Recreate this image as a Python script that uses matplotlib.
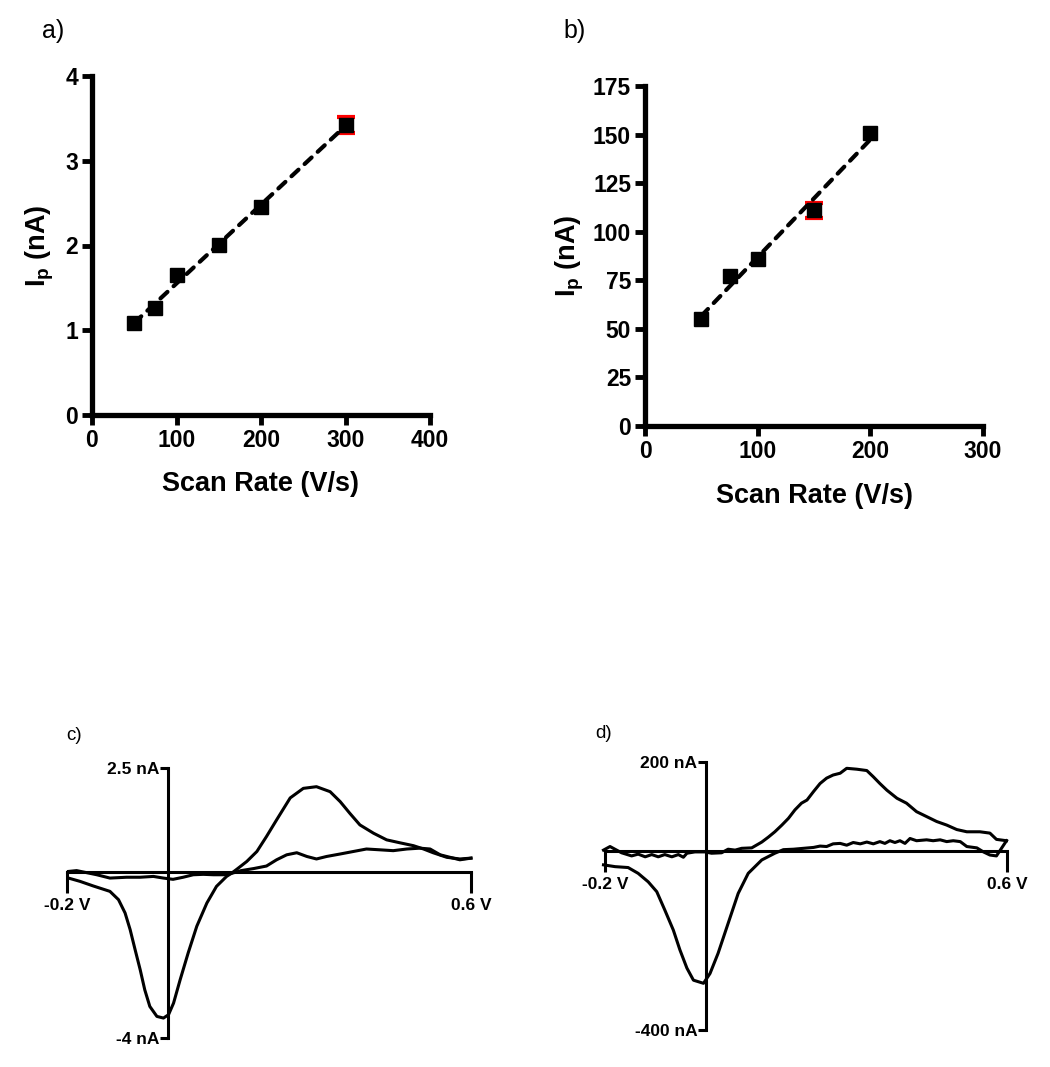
import numpy as np
import matplotlib
matplotlib.use("Agg")
import matplotlib.pyplot as plt

plt.rcParams['font.family'] = ['Liberation Sans', 'DejaVu Sans']
plt.rcParams['font.weight'] = 'bold'
plt.rcParams['mathtext.fontset'] = 'custom'
plt.rcParams['mathtext.rm'] = 'Liberation Sans:bold'
plt.rcParams['mathtext.it'] = 'Liberation Sans:bold'
plt.rcParams['mathtext.bf'] = 'Liberation Sans:bold'

# a) peak current vs scan rate
scan_a = [50, 75, 100, 150, 200, 300]
ip_a = [1.08, 1.26, 1.65, 2.01, 2.45, 3.42]
err_a = [0, 0, 0, 0, 0, 0.095]

# b) peak current vs scan rate
scan_b = [50, 75, 100, 150, 200]
ip_b = [55, 77, 86, 111, 151]
err_b = [0, 0, 0, 3.9, 0]

# c) cyclic voltammogram (V, nA)
c_fwd_v = [-0.197, -0.181, -0.161, -0.141, -0.115, -0.082, -0.055, -0.029, -0.009, 0.010,
           0.030, 0.050, 0.070, 0.090, 0.110, 0.125, 0.136, 0.156, 0.176, 0.195, 0.215,
           0.242, 0.268, 0.294, 0.321, 0.341, 0.360, 0.380, 0.407, 0.433, 0.459, 0.486,
           0.506, 0.525, 0.552, 0.578, 0.600]
c_fwd_i = [0.01, 0.03, -0.02, -0.07, -0.15, -0.13, -0.13, -0.11, -0.15, -0.18,
           -0.13, -0.07, -0.06, -0.07, -0.07, -0.04, 0.06, 0.25, 0.49, 0.85, 1.25,
           1.78, 2.01, 2.05, 1.93, 1.69, 1.41, 1.13, 0.93, 0.77, 0.70, 0.63,
           0.55, 0.46, 0.35, 0.31, 0.33]
c_rev_v = [0.600, 0.578, 0.539, 0.519, 0.499, 0.473, 0.446, 0.420, 0.393, 0.367, 0.341,
           0.314, 0.294, 0.275, 0.255, 0.235, 0.215, 0.195, 0.170, 0.145, 0.125, 0.116,
           0.096, 0.077, 0.057, 0.040, 0.024, 0.011, 0.001, -0.009, -0.022, -0.036,
           -0.046, -0.055, -0.065, -0.075, -0.085, -0.098, -0.115, -0.148, -0.174, -0.197]
c_rev_i = [0.33, 0.29, 0.41, 0.55, 0.57, 0.55, 0.51, 0.53, 0.55, 0.49, 0.43,
           0.37, 0.31, 0.37, 0.46, 0.41, 0.29, 0.14, 0.08, 0.03, -0.04, -0.11,
           -0.35, -0.75, -1.31, -1.95, -2.60, -3.16, -3.44, -3.52, -3.48, -3.24,
           -2.84, -2.36, -1.88, -1.39, -0.99, -0.67, -0.47, -0.34, -0.23, -0.15]

# d) cyclic voltammogram (V, nA)
d_fwd_v = [-0.203, -0.190, -0.167, -0.147, -0.134, -0.120, -0.107, -0.094, -0.081, -0.067,
           -0.054, -0.044, -0.037, -0.021, -0.001, 0.012, 0.032, 0.045, 0.059, 0.072,
           0.092, 0.112, 0.125, 0.138, 0.152, 0.165, 0.178, 0.191, 0.202, 0.215, 0.228,
           0.241, 0.254, 0.268, 0.281, 0.301, 0.321, 0.334, 0.347, 0.361, 0.381, 0.400,
           0.420, 0.440, 0.460, 0.480, 0.500, 0.520, 0.546, 0.566, 0.579, 0.599]
d_fwd_i = [2, 10, -4, -11, -7, -13, -8, -13, -8, -13,
           -8, -14, -5, -2, -2, -5, -4, 4, 2, 6,
           7, 20, 31, 43, 58, 73, 92, 107, 114, 133, 151,
           163, 170, 174, 185, 183, 180, 166, 151, 136, 118, 107,
           88, 77, 66, 58, 48, 43, 43, 40, 26, 23]
d_rev_v = [0.599, 0.589, 0.579, 0.566, 0.553, 0.540, 0.520, 0.507, 0.493, 0.480, 0.467,
           0.453, 0.440, 0.420, 0.407, 0.397, 0.387, 0.377, 0.367, 0.357, 0.347, 0.334,
           0.321, 0.308, 0.294, 0.281, 0.268, 0.254, 0.241, 0.228, 0.215, 0.195, 0.175,
           0.155, 0.138, 0.112, 0.085, 0.065, 0.045, 0.025, 0.009, -0.004, -0.024,
           -0.037, -0.051, -0.064, -0.081, -0.097, -0.114, -0.134, -0.154, -0.180, -0.203]
d_rev_i = [23, 6, -11, -9, -2, 7, 10, 21, 23, 21, 25,
           23, 25, 23, 28, 17, 23, 19, 23, 17, 21, 16,
           20, 16, 19, 13, 17, 16, 10, 11, 8, 6, 4,
           3, -5, -20, -50, -95, -162, -229, -274, -296, -289,
           -262, -221, -177, -132, -91, -69, -50, -37, -35, -31]

W, H = 1050, 1067
fig = plt.figure(figsize=(W / 100, H / 100), dpi=100)


def px_axes(left, top, right, bottom):
    # axes placed by pixel box of the reference
    return fig.add_axes([left / W, 1 - bottom / H, (right - left) / W, (bottom - top) / H])


def rate_panel(ax, x, y, err, xmax, ymax, ystep, ylab_x, xlab_y):
    x = np.asarray(x, float)
    y = np.asarray(y, float)
    err = np.asarray(err, float)
    slope, icpt = np.polyfit(x, y, 1)
    xs = np.array([x.min(), x.max()])
    has_err = err > 0
    ax.errorbar(x[has_err], y[has_err], yerr=err[has_err], fmt='none', ecolor='red',
                elinewidth=2, capsize=6.3, capthick=3, zorder=2, clip_on=False)
    ax.plot(x, y, 's', color='black', ms=9.5, zorder=3, clip_on=False)
    ax.plot(xs, slope * xs + icpt, color='black', lw=3, linestyle=(0, (2.3, 2)),
            dash_capstyle='round', zorder=4, clip_on=False)
    ax.set_xlim(0, xmax)
    ax.set_ylim(0, ymax)
    ax.set_xticks(np.arange(0, xmax + 1, 100))
    ax.set_yticks(np.arange(0, ymax + 0.01, ystep))
    for s in ['top', 'right']:
        ax.spines[s].set_visible(False)
    for s in ['left', 'bottom']:
        ax.spines[s].set_linewidth(3.8)
    ax.tick_params(width=3.5, length=7.5, labelsize=16.5, pad=2.5)
    ax.set_xlabel('Scan Rate (V/s)', fontsize=19.5, fontweight='bold')
    ax.set_ylabel(r'I$_\mathrm{p}$ (nA)', fontsize=19.5, fontweight='bold')
    ax.xaxis.set_label_coords(0.5, xlab_y)
    ax.yaxis.set_label_coords(ylab_x, 0.5)


def cv_panel(ax, fv, fi, rv, ri, ylo, yhi, ylabels, xlabels):
    ax.plot(fv, fi, color='black', lw=2.2, clip_on=False)
    ax.plot(rv, ri, color='black', lw=2.2, clip_on=False)
    ax.set_xlim(-0.2, 0.6)
    ax.set_ylim(ylo, yhi)
    for s in ['top', 'right']:
        ax.spines[s].set_visible(False)
    ax.spines['left'].set_position(('data', 0))
    ax.spines['bottom'].set_position(('data', 0))
    for s in ['left', 'bottom']:
        ax.spines[s].set_linewidth(2.2)
    ax.set_yticks([yhi, ylo])
    ax.set_yticklabels(ylabels)
    ax.set_xticks([-0.2, 0.6])
    ax.set_xticklabels(xlabels)
    ax.tick_params(axis='y', width=2.2, length=5.5, labelsize=12.5, pad=0.5)
    ax.tick_params(axis='x', width=2.2, length=15, labelsize=12.5, pad=4)


ax_a = px_axes(92, 76, 430, 415)
rate_panel(ax_a, scan_a, ip_a, err_a, 400, 4, 1, -0.107, -0.165)

ax_b = px_axes(645, 86, 983, 426)
rate_panel(ax_b, scan_b, ip_b, err_b, 300, 175, 25, -0.175, -0.168)

ax_c = px_axes(67, 768, 471, 1038)
cv_panel(ax_c, c_fwd_v, c_fwd_i, c_rev_v, c_rev_i, -4, 2.5,
         ['2.5 nA', '-4 nA'], ['-0.2 V', '0.6 V'])

ax_d = px_axes(605, 761.6, 1007, 1029.8)
cv_panel(ax_d, d_fwd_v, d_fwd_i, d_rev_v, d_rev_i, -400, 200,
         ['200 nA', '-400 nA'], ['-0.2 V', '0.6 V'])

fig.text(42 / W, 1 - 31 / H, 'a)', fontsize=18, fontweight='normal', va='center', ha='left')
fig.text(563 / W, 1 - 31 / H, 'b)', fontsize=18, fontweight='normal', va='center', ha='left')
fig.text(66 / W, 1 - 736 / H, 'c)', fontsize=13.5, fontweight='normal', va='center', ha='left')
fig.text(595 / W, 1 - 734 / H, 'd)', fontsize=13.5, fontweight='normal', va='center', ha='left')

fig.savefig('out.png', dpi=100)
